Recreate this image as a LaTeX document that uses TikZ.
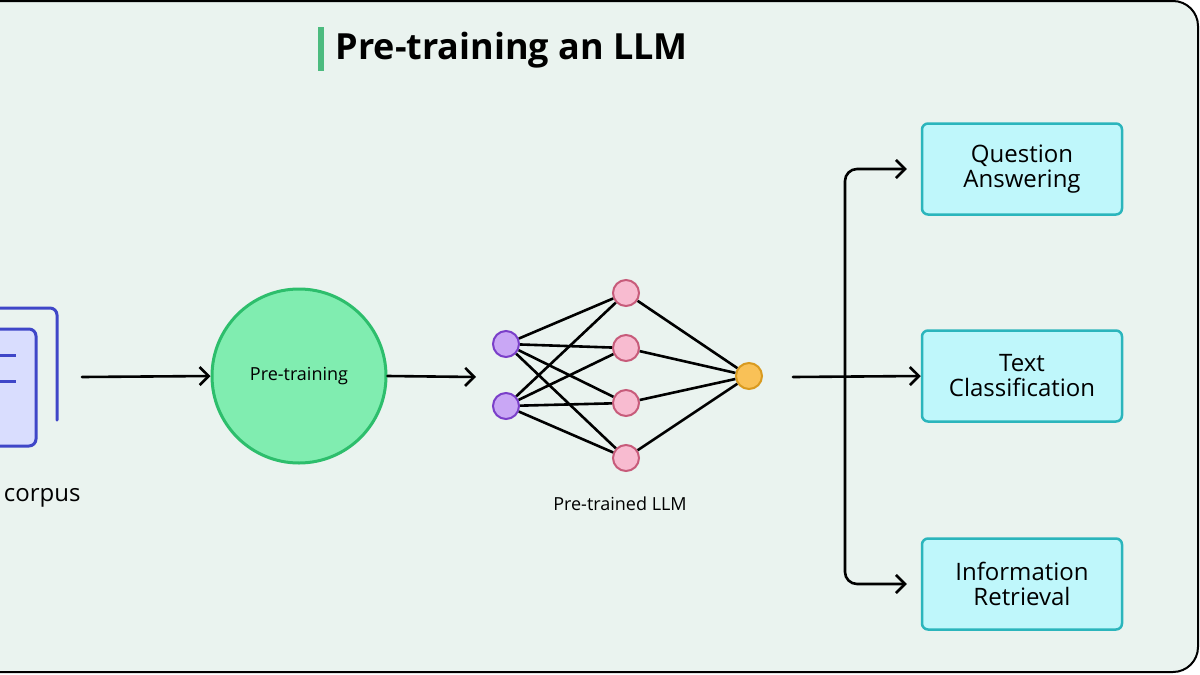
\documentclass[tikz,border=0pt]{standalone}
\usepackage{fontspec}
\setmainfont{Open Sans}
\usetikzlibrary{arrows.meta}
\definecolor{bg}{HTML}{EAF3EF}
\definecolor{docf}{HTML}{D9DDFE}
\definecolor{docb}{HTML}{3F46C8}
\definecolor{ptf}{HTML}{80EDB0}
\definecolor{ptb}{HTML}{2DBE6C}
\definecolor{inf}{HTML}{C9A7F5}
\definecolor{inb}{HTML}{7A3FC9}
\definecolor{hif}{HTML}{F8BBD0}
\definecolor{hib}{HTML}{C75B7A}
\definecolor{ouf}{HTML}{F9C157}
\definecolor{oub}{HTML}{D99A1F}
\definecolor{taskf}{HTML}{BFF7FB}
\definecolor{taskb}{HTML}{2BB5BC}
\definecolor{bar}{HTML}{4CBB7F}
\begin{document}
\begin{tikzpicture}[x=1pt,y=-1pt,
  arr/.style={line width=2.6pt,-{Straight Barb[length=9pt,width=18pt,line width=2.6pt]},line cap=round},
  nn/.style={circle,minimum size=26pt,inner sep=0pt,line width=2pt},
  task/.style={rectangle,rounded corners=6pt,fill=taskf,draw=taskb,line width=2.5pt,minimum width=200pt,minimum height=91pt,align=center,font=\fontsize{24}{25}\selectfont,text=black},
  edge/.style={line width=2.6pt}]
\useasboundingbox (0,0) rectangle (1200,675);
\draw[fill=bg,line width=2pt,rounded corners=25pt] (-30,1) rectangle (1198,672);
% title
\fill[bar] (318,27) rectangle (324,71);
\node[anchor=west,font=\fontsize{36}{38}\selectfont\bfseries] (title) at (332,50) {Pre-training an LLM};
% document icon
\draw[docb,line width=3pt,rounded corners=7pt,line cap=round] (-10,308) -- (57,308) -- (57,420);
\draw[docb,fill=docf,line width=3pt,rounded corners=7pt] (-10,329) rectangle (36,446);
\draw[docb,line width=3pt] (-5,355) -- (16,355);
\draw[docb,line width=3pt] (-5,381) -- (16,381);
\coordinate (doc) at (82,377);
\node[anchor=east,font=\fontsize{24}{25}\selectfont] (corpus) at (84,498) {corpus};
% pre-training circle
\node[circle,minimum size=174pt,fill=ptf,draw=ptb,line width=3pt,font=\fontsize{18}{20}\selectfont] (pt) at (299,376) {Pre-training};
\draw[arr] (doc) -- (pt.west);
% NN
\node[nn,fill=inf,draw=inb] (i1) at (506,344) {};
\node[nn,fill=inf,draw=inb] (i2) at (506,406) {};
\node[nn,fill=hif,draw=hib] (h1) at (626,293) {};
\node[nn,fill=hif,draw=hib] (h2) at (626,348) {};
\node[nn,fill=hif,draw=hib] (h3) at (626,403) {};
\node[nn,fill=hif,draw=hib] (h4) at (626,458) {};
\node[nn,fill=ouf,draw=oub] (o) at (749,376) {};
\foreach \i in {i1,i2}{\foreach \h in {h1,h2,h3,h4}{\draw[edge] (\i) -- (\h);}}
\foreach \h in {h1,h2,h3,h4}{\draw[edge] (\h) -- (o);}
\coordinate (nnin) at (476,377);
\draw[arr] (pt.east) -- (nnin);
\node[font=\fontsize{18}{20}\selectfont] (lbl) at (620,504) {Pre-trained LLM};
% tasks
\node[task] (qa) at (1022,169) {Question\\Answering};
\node[task] (tc) at (1022,376) {Text\\Classification};
\node[task] (ir) at (1022,584) {Information\\Retrieval};
\coordinate (out) at (793,377);
\coordinate (br) at (845,377);
\draw[arr] (out) -- (tc.west);
\draw[arr,rounded corners=12pt] (br) |- ([xshift=-14pt]qa.west);
\draw[arr,rounded corners=12pt] (br) |- ([xshift=-14pt]ir.west);
\end{tikzpicture}
\end{document}
